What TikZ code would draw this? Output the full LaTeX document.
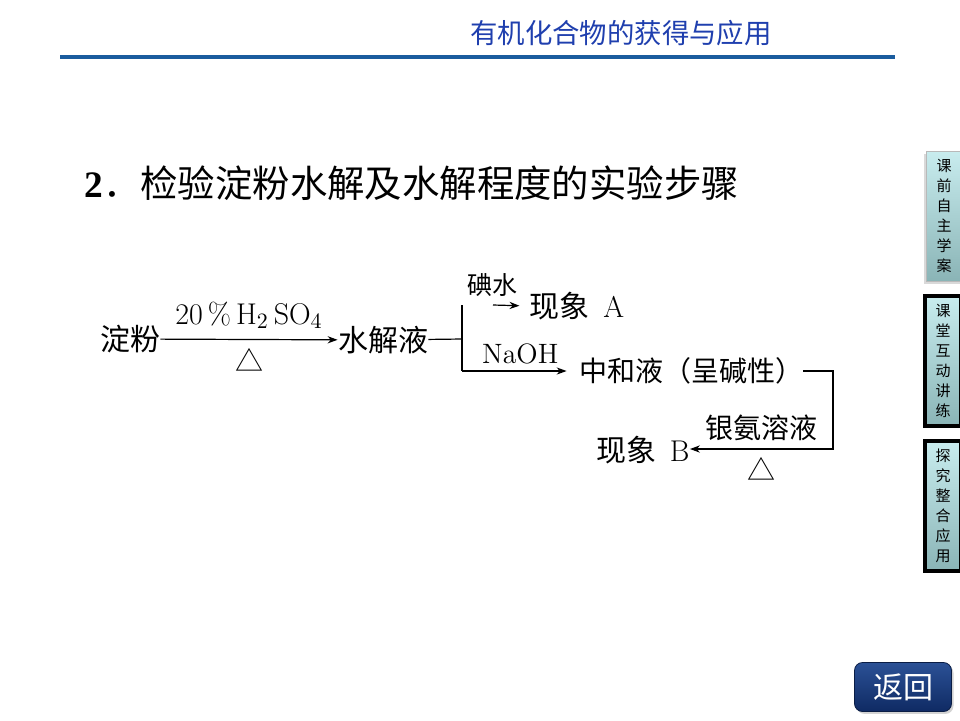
\documentclass[tikz,border=0pt]{standalone}
\usepackage{fontspec}
\newfontfamily\cjk{Noto Sans CJK SC}
\newfontfamily\numfont{Liberation Serif}
\usetikzlibrary{arrows.meta,calc,shadows}
\definecolor{HeadBlue}{HTML}{1F3FAE}
\definecolor{RuleBlue}{HTML}{1A5C9E}
\definecolor{TabTop}{HTML}{C8ECEE}
\definecolor{TabBot}{HTML}{8AB4B6}
\definecolor{BtnTop}{HTML}{2B5196}
\definecolor{BtnBot}{HTML}{0F2A63}

\begin{document}
\begin{tikzpicture}[x=0.5pt,y=-0.5pt,>={Stealth[length=5pt,width=3.6pt]},
  chem/.style={font=\cjk\fontsize{15}{18}\selectfont,inner sep=0pt},
  reagent/.style={font=\cjk\fontsize{12.5}{15}\selectfont,inner sep=0pt},
  flow/.style={line width=0.6pt},
  tabbox/.style={minimum width=18pt,minimum height=65pt,inner sep=0pt,
    top color=TabTop,bottom color=TabBot,align=center,
    font=\cjk\fontsize{7.5}{10}\selectfont},
  btnbox/.style={minimum width=48.5pt,minimum height=24.5pt,rounded corners=4pt,
    top color=BtnTop,bottom color=BtnBot,draw=BtnBot!70!black,text=white,
    font=\cjk\fontsize{15}{18}\selectfont,
    drop shadow={opacity=0.35,shadow xshift=1pt,shadow yshift=-1.2pt}}]

% Page frame: 960 x 720 px
\useasboundingbox (0,0) rectangle (960,720);

% ---- HEADER ----
\node[font=\cjk\fontsize{13.7}{16}\selectfont,text=HeadBlue] (head) at (621,33) {有机化合物的获得与应用};
\draw[RuleBlue,line width=2pt] (60,57) -- (895,57);

% Title line
\node[anchor=west,inner sep=0pt,font=\cjk\fontsize{18.7}{22}\selectfont] (title) at (84,183)
  {{\numfont\bfseries 2}．检验淀粉水解及水解程度的实验步骤};

% ---- FLOW ----
\node[chem] (starch) at (130,339) {淀粉};
\node[chem] (hydro) at (383,340) {水解液};
\node[chem] (phenA) at (577,306) {现象\ \ \rmfamily A};
\node[chem,font=\cjk\fontsize{14}{17}\selectfont] (neutral) at (691,371) {中和液（呈碱性）};
\node[chem] (phenB) at (643,450) {现象\ \ \rmfamily B};

\coordinate (fork) at (462,339);
\coordinate (forktop) at (462,305);
\coordinate (forkbot) at (462,371);
\coordinate (iodtail) at (493,305);
\coordinate (turntop) at (833,371);
\coordinate (turnbot) at (833,449);

% hydrolysis
\draw[flow,->] (starch) -- node[above=5pt,inner sep=0pt,font=\fontsize{15}{18}\selectfont]
    {20\,\%\,H$_2$\,SO$_4$}
  node[below=4pt,inner sep=0pt,font=\cjk\fontsize{14}{16}\selectfont] {△} (hydro);

% branch point
\draw[flow] (hydro) -- (fork);
\draw[flow] (forktop) -- (forkbot);

% iodine test
\node[reagent] (iodine) at (492,285) {碘水};
\draw[flow,->,shorten >=5pt] (iodtail) -- (phenA.west);

% neutralisation
\draw[flow,->,shorten >=6pt] (forkbot) -- node[above=3pt,inner sep=0pt,font=\fontsize{14}{16}\selectfont] {NaOH} (neutral.west);

% silver mirror test
\draw[flow,->] (neutral.east) -- (turntop) -- (turnbot)
  -- node[above=4pt,inner sep=0pt,font=\cjk\fontsize{14}{16}\selectfont] {银氨溶液}
     node[below=4pt,inner sep=0pt,font=\cjk\fontsize{14}{16}\selectfont] {△} (phenB.east |- turnbot);

% ---- SIDE TABS ----
\node[tabbox,draw=gray!55,drop shadow={opacity=0.3,shadow xshift=-1pt,shadow yshift=-1.5pt}]
  (tabself) at (944,216) {课\\前\\自\\主\\学\\案};
\node[tabbox,draw=black,line width=2pt] (tabclass) at (943,361) {课\\堂\\互\\动\\讲\\练};
\node[tabbox,draw=black,line width=2pt] (tabexplore) at (943,506) {探\\究\\整\\合\\应\\用};

% Return button
\node[btnbox] (back) at (903,687) {返回};

\end{tikzpicture}
\end{document}
